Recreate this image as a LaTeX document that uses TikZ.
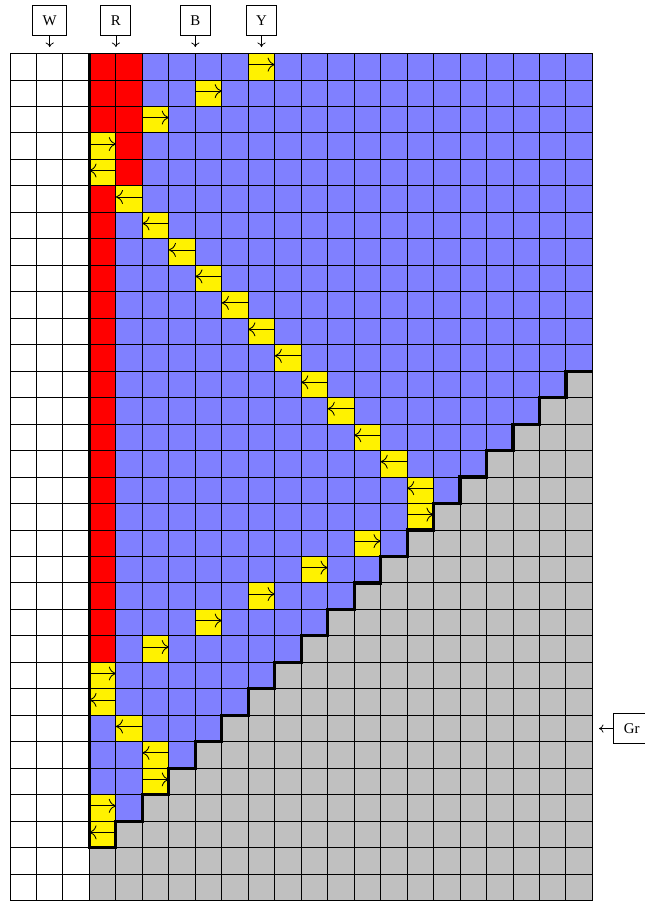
\documentclass[tikz,border=0pt]{standalone}
\usepackage{fontspec}
\setmainfont{Liberation Serif}
\usetikzlibrary{arrows.meta}
\definecolor{cellblue}{HTML}{8080FF}
\definecolor{cellgray}{HTML}{C0C0C0}
\definecolor{cellyellow}{HTML}{FFF200}
\tikzset{
  lbl/.style={draw, line width=0.5pt, inner sep=5.4pt, font=\fontsize{8}{9.6}\selectfont},
  lblarrow/.style={line width=0.4pt, -{To[length=2.4pt,width=4.4pt]}},
  cellarrow/.style={line width=0.45pt, -{To[length=3.8pt,width=7.5pt]}},
  gridline/.style={line width=0.5pt, black},
  boundary/.style={line width=1.7pt, black},
}
\begin{document}
\begin{tikzpicture}[x=0.5cm,y=0.5cm]
\useasboundingbox (-0.378,2.021) rectangle (23.952,-32.09);
% blue field
\fill[cellblue] (3,0) rectangle (22,-32);
% gray staircase
\fill[cellgray] (3,-32) -- (3,-30)
  \foreach \c in {4,...,21}{ -- (\c,-34+\c) -- (\c,-33+\c) } -- (22,-12) -- (22,-32) -- cycle;
% red
\fill[red] (3,0) rectangle (4,-23);
\fill[red] (4,0) rectangle (5,-5);
% yellow cells
\foreach \c/\r in {9/0,7/1,5/2,3/3,3/4,4/5,5/6,6/7,7/8,8/9,9/10,10/11,11/12,12/13,13/14,14/15,15/16,15/17,13/18,11/19,9/20,7/21,5/22,3/23,3/24,4/25,5/26,5/27,3/28,3/29}
  \fill[cellyellow] (\c,-\r) rectangle (\c+1,-\r-1);
% grid
\draw[gridline, step=0.5cm] (0,0) grid (22,-32);
% boundary
\draw[boundary] (3,0) -- (3,-30)
  \foreach \c in {4,...,21}{ -- (\c,-34+\c) -- (\c,-33+\c) } -- (22,-12);
% arrows in yellow cells: right
\foreach \c/\r in {9/0,7/1,5/2,3/3,15/17,13/18,11/19,9/20,7/21,5/22,3/23,5/27,3/28}
  \draw[cellarrow] (\c,-\r-0.42) -- (\c+1,-\r-0.42);
% arrows in yellow cells: left
\foreach \c/\r in {3/4,4/5,5/6,6/7,7/8,8/9,9/10,10/11,11/12,12/13,13/14,14/15,15/16,3/24,4/25,5/26,3/29}
  \draw[cellarrow] (\c+1,-\r-0.42) -- (\c,-\r-0.42);
% labels
\node[lbl] (W) at (1.5,1.24) {W};
\node[lbl] (R) at (4,1.24) {R};
\node[lbl] (B) at (7,1.24) {B};
\node[lbl] (Y) at (9.5,1.24) {Y};
\node[lbl, anchor=west] (Gr) at (22.79,-25.5) {Gr};
\coordinate (Wt) at (1.5,0.245);
\coordinate (Rt) at (4,0.245);
\coordinate (Bt) at (7,0.245);
\coordinate (Yt) at (9.5,0.245);
\coordinate (Grt) at (22.25,-25.5);
\draw[lblarrow] (W.south) -- (Wt);
\draw[lblarrow] (R.south) -- (Rt);
\draw[lblarrow] (B.south) -- (Bt);
\draw[lblarrow] (Y.south) -- (Yt);
\draw[lblarrow] (Gr.west) -- (Grt);
\end{tikzpicture}
\end{document}
